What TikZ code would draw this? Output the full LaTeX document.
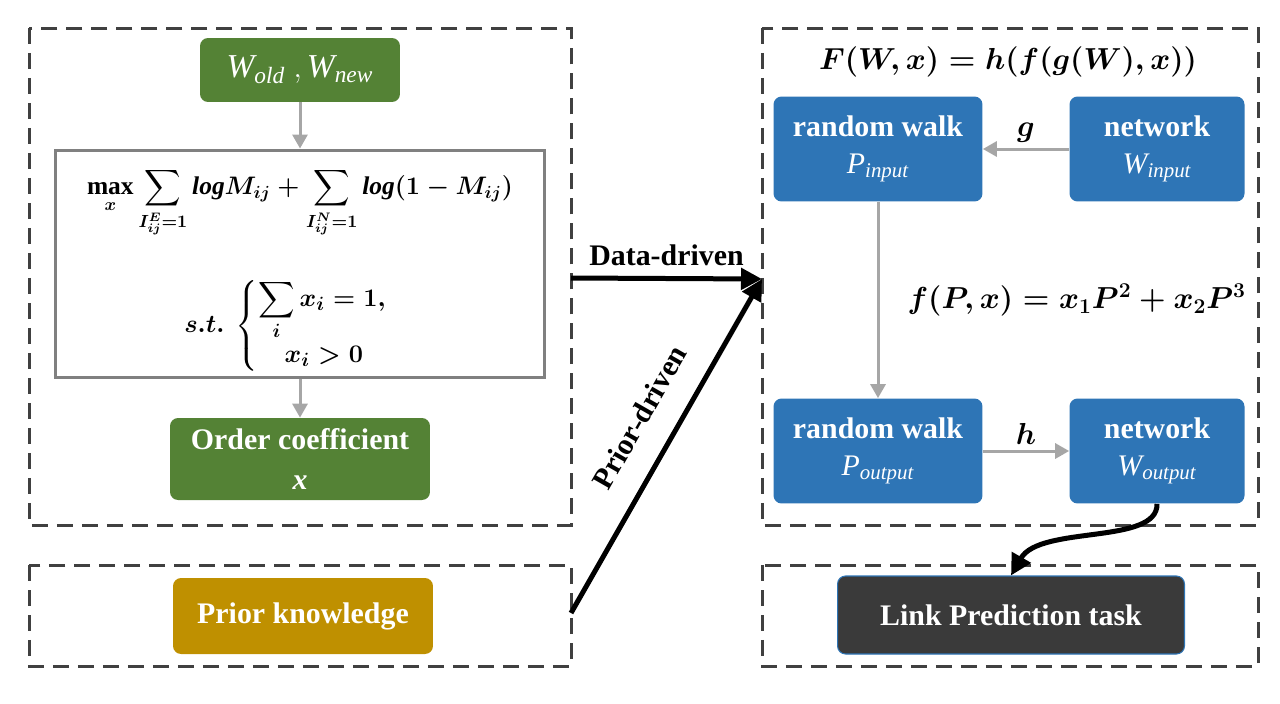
\documentclass[tikz,border=0pt]{standalone}
\usepackage{amsmath}
\usepackage{fontspec}
\setmainfont{Liberation Serif}
\usetikzlibrary{arrows.meta}
\definecolor{dgreen}{HTML}{548235}
\definecolor{gold}{HTML}{BF9000}
\definecolor{mblue}{HTML}{2E75B6}
\definecolor{dgray}{HTML}{3A3A3A}
\definecolor{dashgray}{HTML}{404040}
\definecolor{lgray}{HTML}{A6A6A6}
\definecolor{bgray}{HTML}{808080}
\newcommand\ti[1]{\text{\normalfont\itshape #1}}
\newsavebox\formA
\newsavebox\formB
\newsavebox\formF
\newsavebox\formf
\newsavebox\formg
\newsavebox\formh
\tikzset{
  region/.style={draw=dashgray, line width=0.06cm, dash pattern=on 0.32cm off 0.18cm},
  filled/.style={rounded corners=0.16cm, text=white, font=\fontsize{17}{21}\selectfont\bfseries, align=center, inner sep=0pt},
  gbox/.style={filled, fill=dgreen},
  ybox/.style={filled, fill=gold},
  bbox/.style={filled, fill=mblue},
  kbox/.style={filled, fill=dgray, draw=mblue, line width=0.6pt},
  garrow/.style={draw=lgray, line width=0.06cm, -{Triangle[length=0.28cm,width=0.3cm]}},
  karrow/.style={draw=black, line width=0.1cm, -{Triangle[length=0.42cm,width=0.42cm]}},
  lbl/.style={font=\fontsize{17}{20}\selectfont\bfseries, inner sep=2pt},
  formula/.style={inner sep=0pt}
}
\begin{document}
\sbox\formA{\fontsize{14.5}{18}\selectfont\boldmath$\displaystyle \max_{x}\sum_{I^{E}_{ij}=1}\mathit{log}M_{ij}+\sum_{I^{N}_{ij}=1}\mathit{log}(1-M_{ij})$}%
\sbox\formB{\fontsize{15}{18}\selectfont\boldmath$\displaystyle s.t.\ \left\{\begin{array}{@{}l@{}}\displaystyle\sum_{i}x_i=1,\\ \quad x_i>0\end{array}\right.$}%
\sbox\formF{\fontsize{16.5}{18}\selectfont\boldmath$F(W,x)=h(f(g(W),x))$}%
\sbox\formf{\fontsize{16.5}{20}\selectfont\boldmath$f(P,x)=x_1P^2+x_2P^3$}%
\sbox\formg{\fontsize{17}{20}\selectfont\boldmath$g$}%
\sbox\formh{\fontsize{17}{20}\selectfont\boldmath$h$}%
\begin{tikzpicture}[x=0.02cm,y=-0.02cm]
\useasboundingbox (0,0) rectangle (1280,703);
% regions
\draw[region] (29,28) rectangle (571,525);
\draw[region] (29,565) rectangle (571,666);
\draw[region] (762,28) rectangle (1258,525);
\draw[region] (762,565) rectangle (1258,666);
% left column
\node[gbox, minimum width=4cm, minimum height=1.28cm, font=\fontsize{19}{22}\selectfont] (w) at (300,70) {$\ti{W}_{\ti{old}}\;,\ti{W}_{\ti{new}}$};
\node[draw=bgray, line width=0.06cm, fill=white, minimum width=9.8cm, minimum height=4.56cm, inner sep=0pt] (opt) at (300,264) {};
\node[formula] (f1) at (300,203) {\usebox\formA};
\node[formula] (f2) at (286,326) {\usebox\formB};
\node[gbox, minimum width=5.2cm, minimum height=1.64cm] (oc) at (300,459) {Order coefficient\\[2pt]\textit{x}};
\node[ybox, minimum width=5.2cm, minimum height=1.52cm] (pk) at (303,616) {Prior knowledge};
\draw[garrow] (w) -- (opt);
\draw[garrow] (opt) -- (oc);
% right column
\node[formula] (F) at (1008,62) {\usebox\formF};
\node[bbox, minimum width=4.18cm, minimum height=2.1cm] (rwi) at (878,149) {random walk\\$\ti{P}_{\ti{input}}$};
\node[bbox, minimum width=3.5cm, minimum height=2.1cm] (nwi) at (1157,149) {network\\$\ti{W}_{\ti{input}}$};
\node[bbox, minimum width=4.18cm, minimum height=2.1cm] (rwo) at (878,451) {random walk\\$\ti{P}_{\ti{output}}$};
\node[bbox, minimum width=3.5cm, minimum height=2.1cm] (nwo) at (1157,451) {network\\$\ti{W}_{\ti{output}}$};
\node[kbox, minimum width=6.94cm, minimum height=1.56cm] (lp) at (1011,615) {Link Prediction task};
\draw[garrow] (nwi) -- node[lbl, above=1pt] {\usebox\formg} (rwi);
\draw[garrow] (rwi) -- node[lbl, right=14pt] {\usebox\formf} (rwo);
\draw[garrow] (rwo) -- node[lbl, above=1pt] {\usebox\formh} (nwo);
\coordinate (in) at (762,279);
\coordinate (dstart) at (571,278);
\coordinate (pstart) at (571,613);
\draw[karrow] (dstart) -- node[lbl, above=4pt] {Data-driven} (in);
\draw[karrow] (pstart) -- node[lbl, pos=0.53, sloped, above=12pt] {Prior-driven} (in);
\draw[karrow] (nwo.south) .. controls (1158,545) and (1040,525) .. (lp.north);
\end{tikzpicture}
\end{document}
